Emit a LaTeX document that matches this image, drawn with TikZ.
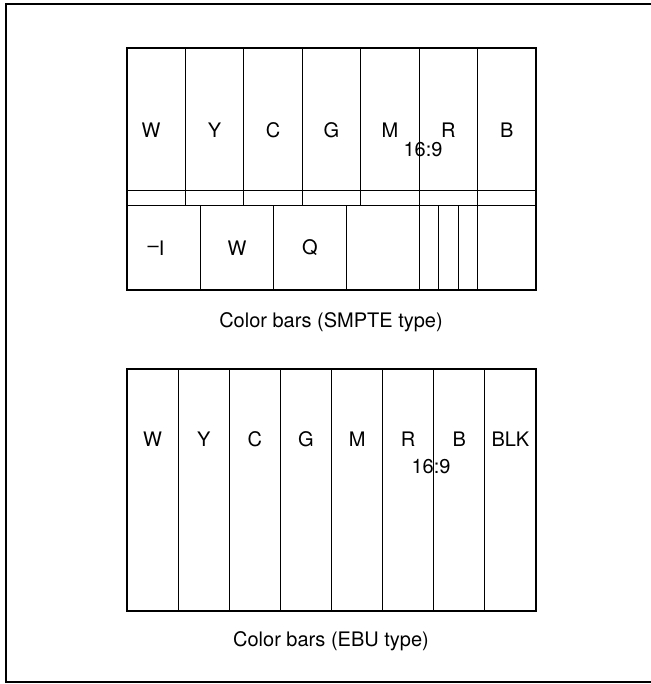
\documentclass[tikz,border=0pt]{standalone}
\usepackage{fontspec}
\setmainfont{TeX Gyre Heros}
\begin{document}
\begin{tikzpicture}[x=0.75pt, y=-0.75pt, font=\fontsize{15}{18}\selectfont]
    \useasboundingbox (0,0) rectangle (650,684);
    \draw[line width=1.3pt] (651,4) -- (6,4) -- (6,682) -- (651,682);

    % SMPTE type
    \draw[line width=0.7pt] (127,190) -- (536,190);
    \draw[line width=0.7pt] (127,205) -- (536,205);
    \foreach \x in {185.4,243.9,302.3,360.7,419.1,477.6}
        \draw[line width=0.7pt] (\x,48) -- (\x,205);
    \foreach \x in {200.5,273.5,346.5,419.1,438.6,458.1,477.6}
        \draw[line width=0.7pt] (\x,205) -- (\x,290);
    \draw[line width=1.1pt] (127,48) rectangle (536,290);

    \node (sW) at (151,130) {W};
    \node (sY) at (214.6,130) {Y};
    \node (sC) at (273,130) {C};
    \node (sG) at (331.5,130) {G};
    \node (sM) at (389.9,130) {M};
    \node (sR) at (448.3,130) {R};
    \node (sB) at (506.8,130) {B};
    \node (sratio) at (423,150) {16:9};
    \node (sI) at (156,248) {\raisebox{0.12em}{–}I};
    \node (sW2) at (237,248) {W};
    \node (sQ) at (310,248) {Q};
    \node (scap) at (331,322) {Color bars (SMPTE type)};

    % EBU type
    \foreach \x in {178.1,229.3,280.4,331.5,382.6,433.8,484.9}
        \draw[line width=0.7pt] (\x,369) -- (\x,611);
    \draw[line width=1.1pt] (127,369) rectangle (536,611);

    \node (eW) at (152.6,439) {W};
    \node (eY) at (203.7,439) {Y};
    \node (eC) at (254.8,439) {C};
    \node (eG) at (306,439) {G};
    \node (eM) at (357.1,439) {M};
    \node (eR) at (408.2,439) {R};
    \node (eB) at (459.3,439) {B};
    \node (eBLK) at (510.4,439) {BLK};
    \node (eratio) at (431,467) {16:9};
    \node (ecap) at (331,641) {Color bars (EBU type)};
\end{tikzpicture}
\end{document}
